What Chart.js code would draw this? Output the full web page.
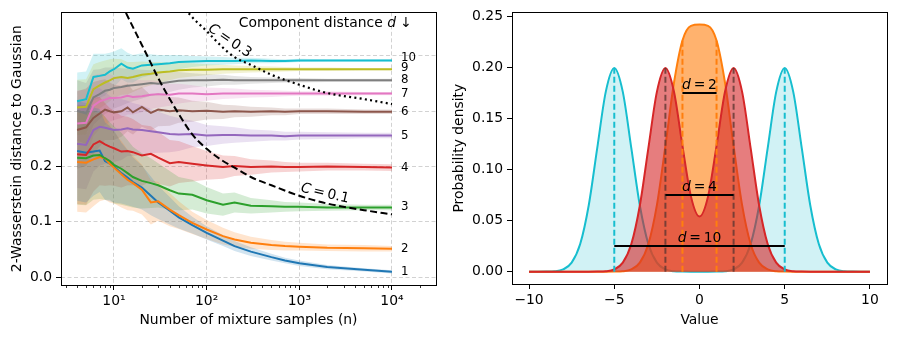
<!DOCTYPE html>
<html>
<head>
<meta charset="utf-8">
<script src="https://cdn.jsdelivr.net/npm/chart.js@4.4.1/dist/chart.umd.min.js"></script>
<style>
  html, body { margin: 0; padding: 0; background: #fff; }
  #wrap { position: relative; width: 898px; height: 339px; }
  .panel { position: absolute; top: 0; height: 339px; }
  #left { left: 0; width: 450px; }
  #right { left: 450px; width: 448px; }
</style>
</head>
<body>
<div id="wrap">
  <div class="panel" id="left"><canvas id="convChart" width="450" height="339"></canvas></div>
  <div class="panel" id="right"><canvas id="densityChart" width="448" height="339"></canvas></div>
</div>
<script>
// ---- left panel data: W2 distance vs number of samples ----
const sampleCounts = [4, 5, 6, 7, 8, 9, 10, 12, 14, 16, 20, 25, 30, 40, 50, 70, 100, 150, 200, 300, 500, 700, 1000, 2000, 5000, 10000];
const componentDistances = [1, 2, 3, 4, 5, 6, 7, 8, 9, 10];

const w2MeanD1 = [0.228, 0.225, 0.227, 0.229, 0.210, 0.205, 0.200, 0.188, 0.180, 0.172, 0.162, 0.147, 0.135, 0.120, 0.108, 0.094, 0.080, 0.066, 0.056, 0.046, 0.036, 0.030, 0.025, 0.018, 0.013, 0.0095];
const w2MeanD2 = [0.208, 0.207, 0.213, 0.217, 0.215, 0.205, 0.198, 0.186, 0.176, 0.170, 0.158, 0.135, 0.137, 0.122, 0.112, 0.098, 0.086, 0.074, 0.068, 0.062, 0.058, 0.056, 0.055, 0.053, 0.052, 0.051];
const w2MeanD3 = [0.216, 0.215, 0.220, 0.221, 0.215, 0.210, 0.203, 0.196, 0.188, 0.181, 0.174, 0.170, 0.166, 0.157, 0.151, 0.149, 0.139, 0.131, 0.135, 0.129, 0.128, 0.127, 0.127, 0.126, 0.126, 0.126];
const w2MeanD4 = [0.222, 0.221, 0.240, 0.246, 0.240, 0.236, 0.233, 0.227, 0.228, 0.226, 0.220, 0.223, 0.216, 0.206, 0.208, 0.205, 0.202, 0.199, 0.201, 0.199, 0.200, 0.199, 0.199, 0.200, 0.199, 0.198];
const w2MeanD5 = [0.241, 0.239, 0.266, 0.272, 0.270, 0.268, 0.266, 0.267, 0.269, 0.267, 0.266, 0.264, 0.262, 0.259, 0.258, 0.259, 0.256, 0.257, 0.257, 0.256, 0.256, 0.255, 0.256, 0.256, 0.256, 0.256];
const w2MeanD6 = [0.266, 0.271, 0.288, 0.296, 0.303, 0.300, 0.298, 0.300, 0.307, 0.298, 0.308, 0.297, 0.303, 0.300, 0.302, 0.300, 0.301, 0.299, 0.300, 0.299, 0.300, 0.299, 0.300, 0.300, 0.299, 0.299];
const w2MeanD7 = [0.278, 0.279, 0.310, 0.318, 0.321, 0.324, 0.324, 0.325, 0.328, 0.326, 0.327, 0.330, 0.331, 0.330, 0.332, 0.332, 0.331, 0.332, 0.332, 0.332, 0.332, 0.332, 0.332, 0.332, 0.332, 0.332];
const w2MeanD8 = [0.301, 0.296, 0.325, 0.331, 0.337, 0.339, 0.342, 0.344, 0.346, 0.347, 0.349, 0.351, 0.350, 0.353, 0.355, 0.356, 0.356, 0.357, 0.356, 0.356, 0.356, 0.356, 0.356, 0.356, 0.356, 0.356];
const w2MeanD9 = [0.307, 0.308, 0.340, 0.347, 0.352, 0.356, 0.360, 0.362, 0.360, 0.362, 0.366, 0.368, 0.370, 0.372, 0.374, 0.375, 0.375, 0.376, 0.376, 0.376, 0.376, 0.376, 0.376, 0.376, 0.376, 0.376];
const w2MeanD10 = [0.318, 0.322, 0.362, 0.364, 0.366, 0.372, 0.376, 0.386, 0.379, 0.377, 0.383, 0.384, 0.385, 0.387, 0.389, 0.390, 0.391, 0.391, 0.391, 0.392, 0.391, 0.391, 0.392, 0.392, 0.392, 0.392];

// half-width of the shaded band around each mean
const w2SpreadD1 = [0.090, 0.090, 0.080, 0.075, 0.070, 0.068, 0.065, 0.055, 0.050, 0.045, 0.040, 0.035, 0.030, 0.025, 0.020, 0.015, 0.012, 0.010, 0.009, 0.008, 0.006, 0.005, 0.005, 0.004, 0.003, 0.003];
const w2SpreadD2 = [0.090, 0.090, 0.085, 0.080, 0.075, 0.070, 0.065, 0.060, 0.055, 0.050, 0.045, 0.040, 0.035, 0.030, 0.025, 0.020, 0.017, 0.015, 0.013, 0.011, 0.009, 0.008, 0.007, 0.006, 0.006, 0.005];
const w2SpreadD3 = [0.085, 0.085, 0.080, 0.080, 0.075, 0.070, 0.070, 0.065, 0.060, 0.055, 0.050, 0.045, 0.040, 0.035, 0.030, 0.027, 0.024, 0.020, 0.018, 0.014, 0.011, 0.009, 0.008, 0.006, 0.005, 0.005];
const w2SpreadD4 = [0.090, 0.090, 0.085, 0.080, 0.075, 0.070, 0.068, 0.065, 0.062, 0.060, 0.055, 0.050, 0.047, 0.042, 0.038, 0.032, 0.026, 0.021, 0.018, 0.014, 0.011, 0.009, 0.008, 0.007, 0.006, 0.006];
const w2SpreadD5 = [0.080, 0.080, 0.075, 0.070, 0.065, 0.060, 0.058, 0.055, 0.050, 0.048, 0.045, 0.040, 0.037, 0.033, 0.030, 0.024, 0.019, 0.016, 0.014, 0.011, 0.009, 0.008, 0.007, 0.006, 0.005, 0.005];
const w2SpreadD6 = [0.070, 0.070, 0.065, 0.060, 0.055, 0.052, 0.050, 0.046, 0.043, 0.040, 0.036, 0.032, 0.030, 0.026, 0.023, 0.019, 0.016, 0.013, 0.011, 0.009, 0.007, 0.006, 0.005, 0.005, 0.004, 0.004];
const w2SpreadD7 = [0.060, 0.060, 0.055, 0.050, 0.046, 0.043, 0.040, 0.037, 0.034, 0.032, 0.029, 0.026, 0.024, 0.020, 0.018, 0.015, 0.012, 0.010, 0.009, 0.007, 0.006, 0.005, 0.004, 0.004, 0.003, 0.003];
const w2SpreadD8 = [0.055, 0.055, 0.050, 0.045, 0.042, 0.040, 0.037, 0.034, 0.031, 0.029, 0.026, 0.023, 0.021, 0.018, 0.016, 0.013, 0.011, 0.009, 0.008, 0.006, 0.005, 0.004, 0.004, 0.003, 0.003, 0.003];
const w2SpreadD9 = [0.050, 0.050, 0.045, 0.042, 0.040, 0.038, 0.035, 0.032, 0.029, 0.027, 0.024, 0.021, 0.019, 0.016, 0.014, 0.012, 0.010, 0.008, 0.007, 0.006, 0.005, 0.004, 0.003, 0.003, 0.002, 0.002];
const w2SpreadD10 = [0.052, 0.050, 0.042, 0.040, 0.038, 0.034, 0.032, 0.028, 0.027, 0.025, 0.022, 0.019, 0.017, 0.015, 0.013, 0.010, 0.008, 0.007, 0.006, 0.005, 0.004, 0.003, 0.003, 0.002, 0.002, 0.002];

// reference rates C = 0.1 (dashed) and C = 0.3 (dotted)
const refSamplesC01 = [12, 15, 20, 25, 30, 40, 50, 70, 100, 150, 200, 300, 500, 1000, 2000, 5000, 10000];
const refValuesC01 = [0.495, 0.462, 0.420, 0.387, 0.360, 0.322, 0.295, 0.258, 0.232, 0.210, 0.198, 0.181, 0.166, 0.147, 0.133, 0.121, 0.1135];
const refSamplesC03 = [50, 70, 100, 150, 200, 300, 500, 1000, 2000, 5000, 10000];
const refValuesC03 = [0.500, 0.470, 0.445, 0.415, 0.398, 0.384, 0.366, 0.348, 0.333, 0.322, 0.313];

const xMajorTicks = [10, 100, 1000, 10000];
const yTicksLeft = [0, 0.1, 0.2, 0.3, 0.4];

// ---- right panel data: mixture densities ----
const valueGrid = [-10, -9.5, -9, -8.5, -8, -7.5, -7, -6.5, -6, -5.5, -5, -4.5, -4, -3.5, -3, -2.5, -2, -1.5, -1, -0.5, 0,
  0.5, 1, 1.5, 2, 2.5, 3, 3.5, 4, 4.5, 5, 5.5, 6, 6.5, 7, 7.5, 8, 8.5, 9, 9.5, 10];
const densityD2 = [0, 0, 0, 0, 0, 0, 0, 0, 0, 0, 0.0001, 0.0004, 0.0022, 0.0088, 0.0271, 0.0652, 0.1232, 0.1848, 0.2265, 0.2408, 0.2420,
  0.2408, 0.2265, 0.1848, 0.1232, 0.0652, 0.0271, 0.0088, 0.0022, 0.0004, 0.0001, 0, 0, 0, 0, 0, 0, 0, 0, 0, 0];
const densityD4 = [0, 0, 0, 0, 0, 0, 0, 0, 0.0001, 0.0004, 0.0022, 0.0088, 0.0270, 0.0648, 0.1210, 0.1761, 0.1995, 0.1765, 0.1232, 0.0735, 0.0540,
  0.0735, 0.1232, 0.1765, 0.1995, 0.1761, 0.1210, 0.0648, 0.0270, 0.0088, 0.0022, 0.0004, 0.0001, 0, 0, 0, 0, 0, 0, 0, 0];
const densityD10 = [0, 0, 0.0001, 0.0004, 0.0022, 0.0088, 0.0270, 0.0648, 0.1210, 0.1761, 0.1995, 0.1761, 0.1210, 0.0648, 0.0270, 0.0088, 0.0022, 0.0004, 0.0001, 0, 0,
  0, 0.0001, 0.0004, 0.0022, 0.0088, 0.0270, 0.0648, 0.1210, 0.1761, 0.1995, 0.1761, 0.1210, 0.0648, 0.0270, 0.0088, 0.0022, 0.0004, 0.0001, 0, 0];
const componentMeansD2 = [-1, 1];
const componentMeansD4 = [-2, 2];
const componentMeansD10 = [-5, 5];
const distanceBarLevels = [0.175, 0.075, 0.025]; // d = 2, 4, 10
const distanceLabels = ['2', '4', '10'];
const xTicksRight = [-10, -5, 0, 5, 10];
const yTicksRight = [0, 0.05, 0.10, 0.15, 0.20, 0.25];

// ---- styling ----
const tab10 = ['#1f77b4', '#ff7f0e', '#2ca02c', '#d62728', '#9467bd', '#8c564b', '#e377c2', '#7f7f7f', '#bcbd22', '#17becf'];
const FONT = '"DejaVu Sans", sans-serif';
const TICK_FONT = { family: FONT, size: 13.9 };
const GRID_COLOR = '#d2d2d2';
Chart.defaults.font.family = FONT;
Chart.defaults.color = '#000';

function withAlpha(hex, a) {
  const n = parseInt(hex.slice(1), 16);
  return `rgba(${n >> 16},${(n >> 8) & 255},${n & 255},${a})`;
}

// draws text made of normal/italic parts (mathtext imitation)
function drawRich(ctx, parts, x, y, align, size) {
  const fonts = parts.map(p => `${p.italic ? 'italic ' : ''}${size}px ${FONT}`);
  let total = 0;
  const widths = parts.map((p, i) => {
    ctx.font = fonts[i];
    const w = ctx.measureText(p.text).width;
    total += w;
    return w;
  });
  let cx = align === 'center' ? x - total / 2 : align === 'right' ? x - total : x;
  ctx.textAlign = 'left';
  parts.forEach((p, i) => {
    ctx.font = fonts[i];
    ctx.fillText(p.text, cx, y);
    cx += widths[i];
  });
}

const boxPlugin = {
  id: 'box',
  afterDraw(chart) {
    const { ctx, chartArea: a } = chart;
    ctx.save();
    ctx.strokeStyle = '#000';
    ctx.lineWidth = 1;
    ctx.strokeRect(Math.round(a.left) + 0.5, Math.round(a.top) + 0.5, Math.round(a.right - a.left), Math.round(a.bottom - a.top));
    ctx.restore();
  }
};

// ---- left chart ----
const w2Means = [w2MeanD1, w2MeanD2, w2MeanD3, w2MeanD4, w2MeanD5, w2MeanD6, w2MeanD7, w2MeanD8, w2MeanD9, w2MeanD10];
const w2Spreads = [w2SpreadD1, w2SpreadD2, w2SpreadD3, w2SpreadD4, w2SpreadD5, w2SpreadD6, w2SpreadD7, w2SpreadD8, w2SpreadD9, w2SpreadD10];

const leftDatasets = [];
w2Means.forEach((mean, i) => {
  const color = tab10[i];
  const spread = w2Spreads[i];
  leftDatasets.push({
    data: sampleCounts.map((n, j) => ({ x: n, y: mean[j] - spread[j] })),
    borderColor: 'rgba(0,0,0,0)', borderWidth: 0, pointRadius: 0, fill: false, order: 30
  });
  leftDatasets.push({
    data: sampleCounts.map((n, j) => ({ x: n, y: mean[j] + spread[j] })),
    borderColor: 'rgba(0,0,0,0)', borderWidth: 0, pointRadius: 0,
    fill: '-1', backgroundColor: withAlpha(color, 0.2), order: 30
  });
  leftDatasets.push({
    data: sampleCounts.map((n, j) => ({ x: n, y: mean[j] })),
    borderColor: color, borderWidth: 2, pointRadius: 0, fill: false, order: 20 - i
  });
});
leftDatasets.push({
  data: refSamplesC01.map((n, j) => ({ x: n, y: refValuesC01[j] })),
  borderColor: '#000', borderWidth: 2, borderDash: [7, 3.5], pointRadius: 0, fill: false,
  cubicInterpolationMode: 'monotone', order: 0
});
leftDatasets.push({
  data: refSamplesC03.map((n, j) => ({ x: n, y: refValuesC03[j] })),
  borderColor: '#000', borderWidth: 2.2, borderDash: [2, 3.3], pointRadius: 0, fill: false,
  cubicInterpolationMode: 'monotone', order: 0
});

const superscripts = { 1: '\u00b9', 2: '\u00b2', 3: '\u00b3', 4: '\u2074' };
const labelNudge = { 10: -2.7, 9: -1 };

const leftLabels = {
  id: 'leftLabels',
  afterDatasetsDraw(chart) {
    const { ctx, chartArea: a } = chart;
    const xs = chart.scales.x, ys = chart.scales.y;
    ctx.save();
    ctx.fillStyle = '#000';
    // minor log ticks
    ctx.strokeStyle = '#000';
    ctx.lineWidth = 0.8;
    for (let e = 0; e <= 4; e++) {
      for (let m = 2; m <= 9; m++) {
        const v = m * Math.pow(10, e);
        if (v < xs.min || v > xs.max) continue;
        const px = Math.round(xs.getPixelForValue(v)) + 0.5;
        ctx.beginPath();
        ctx.moveTo(px, a.bottom);
        ctx.lineTo(px, a.bottom + 3);
        ctx.stroke();
      }
    }
    // curve numbers at the right end
    ctx.textBaseline = 'middle';
    ctx.font = `11.8px ${FONT}`;
    ctx.textAlign = 'left';
    const lastN = sampleCounts[sampleCounts.length - 1];
    componentDistances.forEach((d, i) => {
      const last = w2Means[i][w2Means[i].length - 1];
      ctx.fillText(String(d), xs.getPixelForValue(lastN) + 9, ys.getPixelForValue(last) + (labelNudge[d] || 0));
    });
    // header
    ctx.textBaseline = 'middle';
    drawRich(ctx, [{ text: 'Component distance ' }, { text: 'd', italic: true }, { text: ' \u2193' }],
      a.right - 24, a.top + 11, 'right', 13.9);
    // rate labels
    ctx.save();
    ctx.translate(xs.getPixelForValue(178), ys.getPixelForValue(0.427));
    ctx.rotate(34 * Math.PI / 180);
    drawRich(ctx, [{ text: 'C', italic: true }, { text: '\u2009=\u20090.3' }], 0, 0, 'center', 13.9);
    ctx.restore();
    ctx.save();
    ctx.translate(xs.getPixelForValue(1890), ys.getPixelForValue(0.151));
    ctx.rotate(13 * Math.PI / 180);
    drawRich(ctx, [{ text: 'C', italic: true }, { text: '\u2009=\u20090.1' }], 0, 0, 'center', 13.9);
    ctx.restore();
    ctx.restore();
  }
};

new Chart(document.getElementById('convChart'), {
  type: 'line',
  data: { datasets: leftDatasets },
  options: {
    responsive: false,
    animation: false,
    layout: { padding: { left: 0, right: 14, top: 12, bottom: 0 } },
    plugins: {
      legend: { display: false },
      tooltip: { enabled: false },
      filler: { drawTime: 'beforeDatasetsDraw' }
    },
    scales: {
      x: {
        type: 'logarithmic',
        min: 2.68,
        max: 29850,
        afterBuildTicks: s => { s.ticks = xMajorTicks.map(v => ({ value: v, major: true })); },
        afterFit: s => { s.height = 54; },
        ticks: {
          autoSkip: false, maxRotation: 0, padding: 3, font: TICK_FONT, color: '#000',
          callback: v => '10' + superscripts[Math.round(Math.log10(v))]
        },
        grid: { color: GRID_COLOR, lineWidth: 1, tickColor: '#000', tickLength: 5, tickWidth: 1 },
        border: { display: false, dash: [4, 2.5] },
        title: { display: true, text: 'Number of mixture samples (n)', font: TICK_FONT, color: '#000', padding: { top: 0, bottom: 10 } }
      },
      y: {
        type: 'linear',
        min: -0.0144,
        max: 0.479,
        afterBuildTicks: s => { s.ticks = yTicksLeft.map(v => ({ value: v })); },
        afterFit: s => { s.width = 61; },
        ticks: { padding: 4, font: TICK_FONT, color: '#000', callback: v => v.toFixed(1) },
        grid: { color: GRID_COLOR, lineWidth: 1, tickColor: '#000', tickLength: 5, tickWidth: 1 },
        border: { display: false, dash: [4, 2.5] },
        title: { display: true, text: '2-Wasserstein distance to Gaussian', font: TICK_FONT, color: '#000', padding: { top: 9.5, bottom: 0 } }
      }
    }
  },
  plugins: [leftLabels, boxPlugin]
});

// ---- right chart ----
function densityDataset(values, color, order) {
  return {
    data: valueGrid.map((x, j) => ({ x, y: values[j] })),
    borderColor: color, backgroundColor: withAlpha(color, color === '#17becf' ? 0.2 : 0.6),
    borderWidth: 2, pointRadius: 0, fill: 'origin', cubicInterpolationMode: 'monotone', order
  };
}
function segment(x1, y1, x2, y2, color, dash, order) {
  return {
    data: [{ x: x1, y: y1 }, { x: x2, y: y2 }],
    borderColor: color, borderWidth: 2, borderDash: dash, pointRadius: 0, fill: false, order
  };
}
const peakAt = (values, m) => values[valueGrid.indexOf(m)];

const rightDatasets = [
  densityDataset(densityD10, '#17becf', 5),
  densityDataset(densityD2, '#ff7f0e', 4),
  densityDataset(densityD4, '#d62728', 3)
];
componentMeansD2.forEach(m => rightDatasets.push(segment(m, 0, m, peakAt(densityD2, m), '#ff7f0e', [6, 3], 1)));
componentMeansD4.forEach(m => rightDatasets.push(segment(m, 0, m, peakAt(densityD4, m), 'rgba(95,55,50,0.8)', [6, 3], 1)));
componentMeansD10.forEach(m => rightDatasets.push(segment(m, 0, m, peakAt(densityD10, m), '#17becf', [6, 3], 1)));
[componentMeansD2, componentMeansD4, componentMeansD10].forEach((means, k) => {
  rightDatasets.push(segment(means[0], distanceBarLevels[k], means[1], distanceBarLevels[k], '#000', [], 0));
});

const rightLabels = {
  id: 'rightLabels',
  afterDatasetsDraw(chart) {
    const { ctx } = chart;
    const xs = chart.scales.x, ys = chart.scales.y;
    ctx.save();
    ctx.fillStyle = '#000';
    ctx.textBaseline = 'alphabetic';
    distanceLabels.forEach((lab, k) => {
      drawRich(ctx, [{ text: 'd', italic: true }, { text: '\u2009=\u2009' + lab }],
        xs.getPixelForValue(0), ys.getPixelForValue(distanceBarLevels[k]) - 4, 'center', 13.9);
    });
    ctx.restore();
  }
};

new Chart(document.getElementById('densityChart'), {
  type: 'line',
  data: { datasets: rightDatasets },
  options: {
    responsive: false,
    animation: false,
    layout: { padding: { left: 0, right: 11, top: 12, bottom: 0 } },
    plugins: { legend: { display: false }, tooltip: { enabled: false } },
    scales: {
      x: {
        type: 'linear',
        min: -11,
        max: 11,
        afterBuildTicks: s => { s.ticks = xTicksRight.map(v => ({ value: v })); },
        afterFit: s => { s.height = 55; },
        ticks: { autoSkip: false, maxRotation: 0, padding: 3, font: TICK_FONT, color: '#000',
          callback: v => (v < 0 ? '\u2212' + Math.abs(v) : String(v)) },
        grid: { drawOnChartArea: false, tickColor: '#000', tickLength: 5, tickWidth: 1 },
        border: { display: false },
        title: { display: true, text: 'Value', font: TICK_FONT, color: '#000', padding: { top: 0, bottom: 10.5 } }
      },
      y: {
        type: 'linear',
        min: -0.0121,
        max: 0.254,
        afterBuildTicks: s => { s.ticks = yTicksRight.map(v => ({ value: v })); },
        afterFit: s => { s.width = 62; },
        ticks: { padding: 4, font: TICK_FONT, color: '#000', callback: v => v.toFixed(2) },
        grid: { drawOnChartArea: false, tickColor: '#000', tickLength: 5, tickWidth: 1 },
        border: { display: false },
        title: { display: true, text: 'Probability density', font: TICK_FONT, color: '#000', padding: { top: 1, bottom: 0 } }
      }
    }
  },
  plugins: [rightLabels, boxPlugin]
});
</script>
</body>
</html>
